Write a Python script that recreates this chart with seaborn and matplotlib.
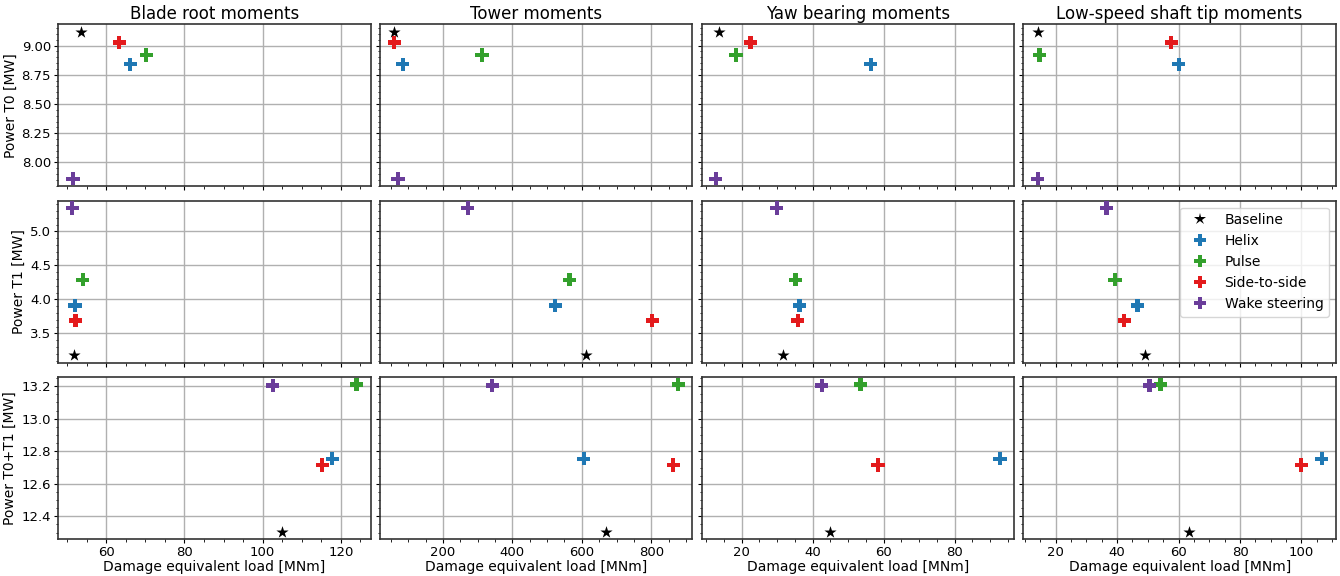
import matplotlib
matplotlib.use("Agg")
import matplotlib.pyplot as plt
from matplotlib.ticker import MultipleLocator
import seaborn as sns
import pandas as pd

methods = ["Baseline", "Helix", "Pulse", "Side-to-side", "Wake steering"]
colors = ["#000000", "#1f78b4", "#33a02c", "#e31a1c", "#6a3d9a"]

titles = ["Blade root moments", "Tower moments", "Yaw bearing moments",
          "Low-speed shaft tip moments"]
row_labels = ["Power T0 [MW]", "Power T1 [MW]", "Power T0+T1 [MW]"]
row_tick_steps = [0.25, 0.5, 0.2]

# Power per method (Baseline, Helix, Pulse, Side-to-side, Wake steering)
power_t0 = [9.12, 8.84, 8.92, 9.026, 7.86]
power_t1 = [3.18, 3.91, 4.288, 3.69, 5.342]
power_sum = [12.305, 12.753, 13.21, 12.716, 13.205]

# Damage equivalent loads [MNm], per row (T0, T1, T0+T1)
blade_t0 = [53.6, 66.1, 70.2, 63.3, 51.5]
blade_t1 = [51.7, 52.0, 54.0, 52.1, 51.3]
blade_sum = [105.0, 117.8, 124.0, 115.2, 102.6]

tower_t0 = [58.6, 83.8, 312.5, 59.5, 70.2]
tower_t1 = [611.6, 523.1, 564.4, 803.0, 271.2]
tower_sum = [669.4, 605.9, 878.0, 863.6, 341.4]

yaw_t0 = [13.6, 56.4, 18.4, 22.5, 12.7]
yaw_t1 = [31.6, 36.3, 35.2, 35.8, 29.9]
yaw_sum = [45.0, 92.8, 53.5, 58.4, 42.6]

lss_t0 = [14.1, 60.1, 14.7, 57.6, 14.2]
lss_t1 = [49.2, 46.6, 39.3, 42.3, 36.5]
lss_sum = [63.4, 106.6, 54.1, 99.9, 50.6]

loads = [
    [blade_t0, tower_t0, yaw_t0, lss_t0],
    [blade_t1, tower_t1, yaw_t1, lss_t1],
    [blade_sum, tower_sum, yaw_sum, lss_sum],
]
powers = [power_t0, power_t1, power_sum]

fig, axes = plt.subplots(3, 4, figsize=(13.4, 5.76), dpi=100,
                         sharex="col", sharey="row")
fig.subplots_adjust(left=0.0433, right=0.997, top=0.958, bottom=0.064,
                    wspace=0.029, hspace=0.09)

palette = dict(zip(methods, colors))
markers = {m: ("*" if m == "Baseline" else "P") for m in methods}

for r in range(3):
    for c in range(4):
        ax = axes[r, c]
        df = pd.DataFrame({"load": loads[r][c], "power": powers[r],
                           "method": methods})
        base = df[df.method == "Baseline"]
        rest = df[df.method != "Baseline"]
        sns.scatterplot(data=base, x="load", y="power", hue="method",
                        style="method", markers=markers, palette=palette,
                        s=85, linewidth=0, ax=ax, zorder=3)
        sns.scatterplot(data=rest, x="load", y="power", hue="method",
                        style="method", markers=markers, palette=palette,
                        s=90, linewidth=0, ax=ax, zorder=3)
        ax.set_axisbelow(True)
        ax.grid(True, which="major", color="#b0b0b0", linewidth=1.0)
        ax.yaxis.set_major_locator(MultipleLocator(row_tick_steps[r]))
        ax.minorticks_on()
        ax.tick_params(which="both", labelsize=9.5, pad=2)
        ax.tick_params(which="major", length=3)
        ax.tick_params(which="minor", length=1.8)
        if ax.get_legend() is not None:
            ax.get_legend().remove()
        ax.set_xlabel("Damage equivalent load [MNm]" if r == 2 else "",
                      fontsize=10, labelpad=1)
        ax.set_ylabel(row_labels[r] if c == 0 else "", fontsize=10, labelpad=3)
        if r == 0:
            ax.set_title(titles[c], fontsize=12, pad=4)
        for sp in ax.spines.values():
            sp.set_color("#333333")
            sp.set_linewidth(1.2)

# legend in row 1, col 3
ax = axes[1, 3]
handles = []
for m, col in zip(methods, colors):
    h = plt.Line2D([], [], linestyle="none", marker=markers[m], color=col,
                   markersize=9, markeredgewidth=0, label=m)
    handles.append(h)
ax.legend(handles=handles, loc="upper right", fontsize=10)

fig.savefig("out.png", dpi=100)
